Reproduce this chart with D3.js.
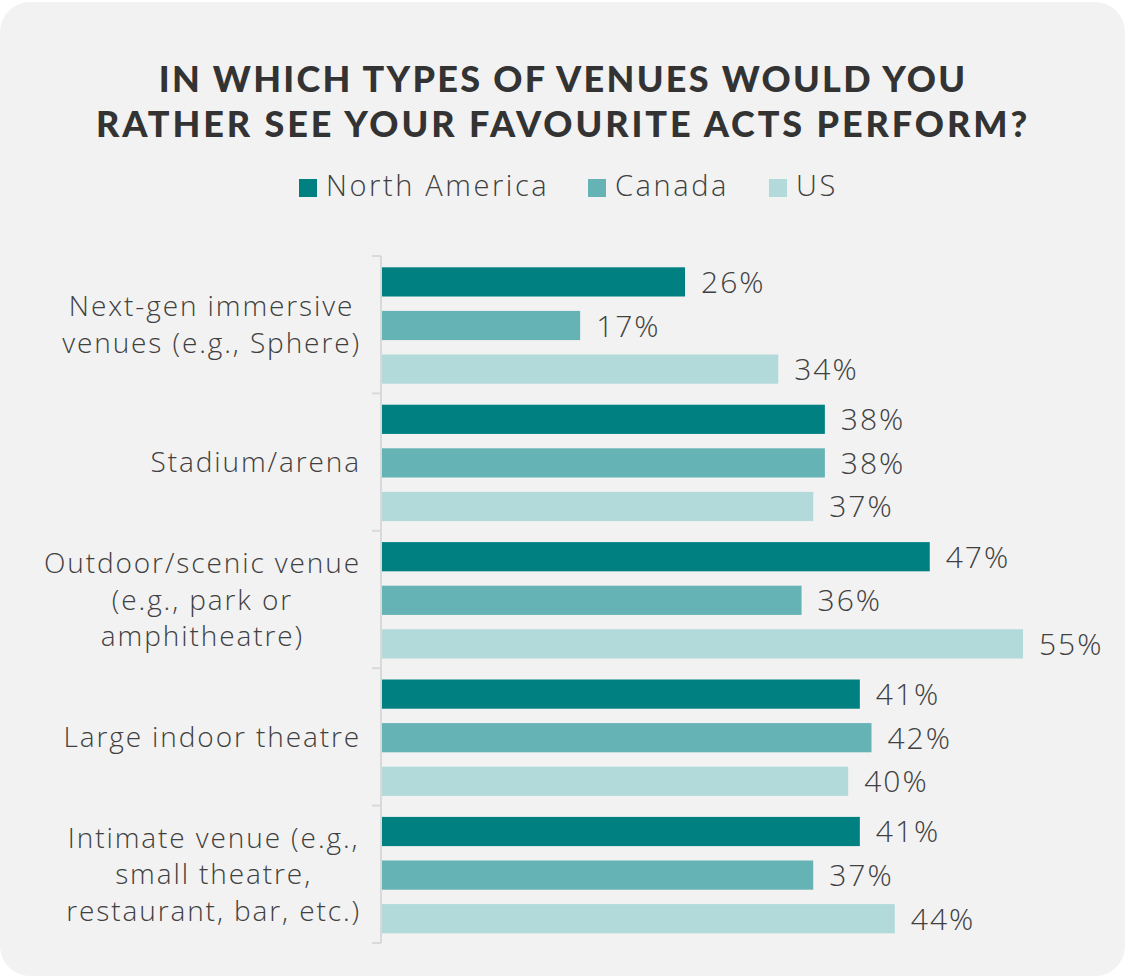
<!DOCTYPE html>
<html>
<head>
<meta charset="utf-8">
<script src="https://cdn.jsdelivr.net/npm/d3@7"></script>
<style>
  html, body { margin: 0; padding: 0; background: #ffffff; }
  svg { display: block; }
</style>
</head>
<body>
<svg id="chart" width="1125" height="976"></svg>
<script>
// Venue preference survey, percentages by region
const categories = [
  ["Next-gen immersive", "venues (e.g., Sphere)"],
  ["Stadium/arena"],
  ["Outdoor/scenic venue", "(e.g., park or", "amphitheatre)"],
  ["Large indoor theatre"],
  ["Intimate venue (e.g.,", "small theatre,", "restaurant, bar, etc.)"]
];
const seriesNames = ["North America", "Canada", "US"];
const northAmerica = [26, 38, 47, 41, 41];
const canada = [17, 38, 36, 42, 37];
const us = [34, 37, 55, 40, 44];
const seriesColors = ["#008080", "#66b3b5", "#b2dada"];
const titleLines = ["IN WHICH TYPES OF VENUES WOULD YOU", "RATHER SEE YOUR FAVOURITE ACTS PERFORM?"];

const series = [northAmerica, canada, us];
const svg = d3.select("#chart");
const W = 1125, H = 976;
const textColor = "#404040";
const titleFont = "Lato, 'Open Sans', sans-serif";
const font = "'Open Sans', Lato, sans-serif";

// background panel
svg.append("rect")
  .attr("x", 0).attr("y", 2).attr("width", W).attr("height", H - 2)
  .attr("rx", 30).attr("ry", 30)
  .attr("fill", "#f2f2f2");

// title
svg.append("g").selectAll("text").data(titleLines).join("text")
  .attr("x", 563)
  .attr("y", (d, i) => 92 + i * 45)
  .attr("text-anchor", "middle")
  .attr("font-family", titleFont)
  .attr("font-weight", 900)
  .attr("font-size", 36)
  .attr("letter-spacing", (d, i) => i === 0 ? 2.3 : 2.9)
  .attr("fill", "#333333")
  .text(d => d);

// legend
const legendX = [299, 588, 769];
const legend = svg.append("g").selectAll("g").data(seriesNames).join("g")
  .attr("transform", (d, i) => `translate(${legendX[i]},179)`);
legend.append("rect")
  .attr("width", 18).attr("height", 18)
  .attr("fill", (d, i) => seriesColors[i]);
legend.append("text")
  .attr("x", 27).attr("y", 17)
  .attr("font-family", font)
  .attr("font-weight", 300)
  .attr("font-size", 29)
  .attr("letter-spacing", 2.6)
  .attr("fill", textColor)
  .text(d => d);

// scales
const x0 = 382;
const x = d3.scaleLinear().domain([0, 55]).range([x0, 1023]);
const y = d3.scaleBand().domain(d3.range(categories.length)).range([256, 943]).paddingInner(0).paddingOuter(0);
const ySub = d3.scaleBand().domain(d3.range(seriesNames.length)).range([11.3, 127.7]).paddingInner(0.33).paddingOuter(0);

// category axis
const axisG = svg.append("g").attr("transform", `translate(${x0 - 1},0)`);
axisG.append("line")
  .attr("x1", 0).attr("x2", 0).attr("y1", 256).attr("y2", 943)
  .attr("stroke", "#d9d9d9").attr("stroke-width", 2);
const boundaries = d3.range(categories.length + 1).map(i => i < categories.length ? y(i) : y(categories.length - 1) + y.bandwidth());
axisG.selectAll(".bound").data(boundaries).join("line")
  .attr("class", "bound")
  .attr("x1", -9).attr("x2", 0)
  .attr("y1", d => d).attr("y2", d => d)
  .attr("stroke", "#d9d9d9").attr("stroke-width", 2);

// category labels: each block centred on its own widest line, right edge at 361
const lineH = 36.5;
const labelRight = 361;
const catG = svg.append("g").selectAll("text").data(categories).join("text")
  .attr("text-anchor", "middle")
  .attr("font-family", font)
  .attr("font-weight", 300)
  .attr("font-size", 28)
  .attr("letter-spacing", 1.9)
  .attr("fill", textColor)
  .attr("transform", (d, i) => `translate(0,${y(i) + y.bandwidth() / 2 + 10 - (d.length - 1) * lineH / 2})`);
catG.selectAll("tspan").data(d => d).join("tspan")
  .attr("y", (d, j) => j * lineH)
  .text(d => d);
catG.each(function () {
  const spans = d3.select(this).selectAll("tspan").nodes();
  const maxW = d3.max(spans, n => n.getComputedTextLength());
  d3.select(this).selectAll("tspan").attr("x", labelRight - maxW / 2);
});

// bars and value labels
const rows = (d, i) => series.map((s, k) => ({ k, v: s[i] }));
const groups = svg.append("g").selectAll("g").data(categories).join("g")
  .attr("transform", (d, i) => `translate(0,${y(i)})`);
groups.selectAll("rect").data(rows).join("rect")
  .attr("x", x0)
  .attr("y", d => ySub(d.k))
  .attr("width", d => x(d.v) - x0)
  .attr("height", ySub.bandwidth())
  .attr("fill", d => seriesColors[d.k]);
groups.selectAll("text").data(rows).join("text")
  .attr("x", d => x(d.v) + 16)
  .attr("y", d => ySub(d.k) + ySub.bandwidth() / 2 + 11)
  .attr("font-family", font)
  .attr("font-weight", 300)
  .attr("font-size", 30)
  .attr("letter-spacing", 2)
  .attr("fill", textColor)
  .text(d => d.v + "%");
</script>
</body>
</html>
